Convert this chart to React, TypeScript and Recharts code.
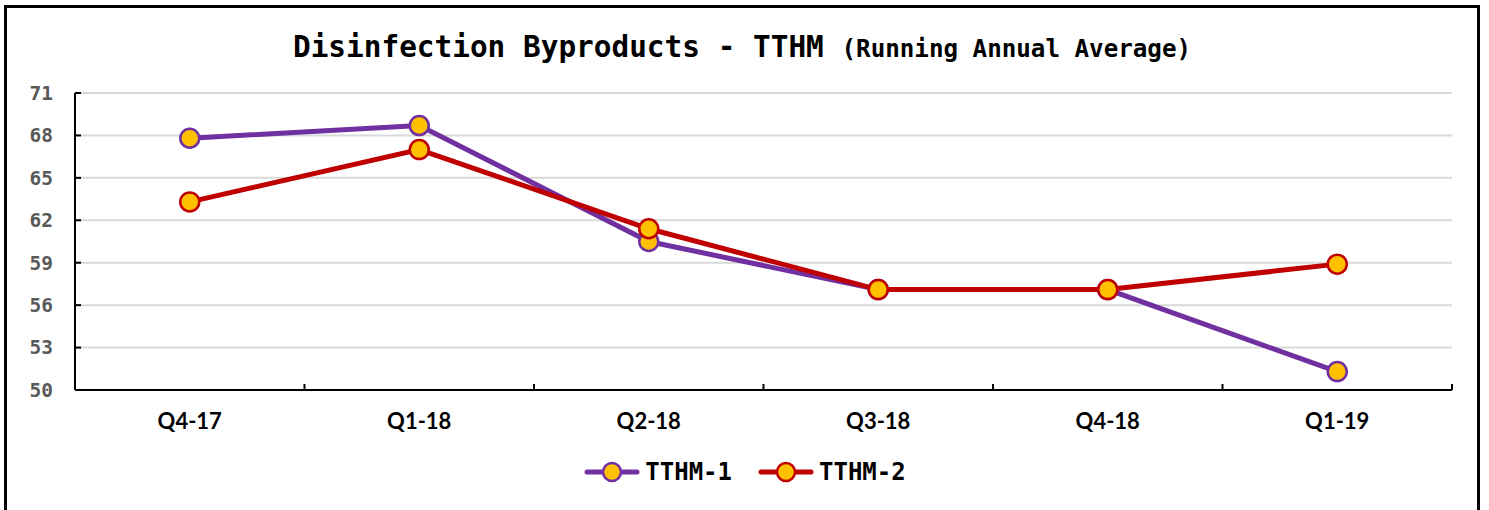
import { LineChart, Line, XAxis, YAxis, CartesianGrid, Legend } from 'recharts';

const quarters = ['Q4-17', 'Q1-18', 'Q2-18', 'Q3-18', 'Q4-18', 'Q1-19'];
const tthm1 = [67.8, 68.7, 60.5, 57.1, 57.1, 51.3];
const tthm2 = [63.3, 67.0, 61.4, 57.1, 57.1, 58.9];
const yTicks = [50, 53, 56, 59, 62, 65, 68, 71];

const data = quarters.map((q, i) => ({ quarter: q, 'TTHM-1': tthm1[i], 'TTHM-2': tthm2[i] }));

const MONO = '"DejaVu Sans Mono", monospace';
const DOT_FILL = '#FFC000';

function YTick(props: any) {
  const { x, y, payload } = props;
  return (
    <g>
      <line x1={x + 22} x2={x + 28} y1={y} y2={y} stroke="#000" strokeWidth={2} />
      <text x={x} y={y} dy="0.35em" textAnchor="end" fill="#595959"
        style={{ fontFamily: MONO, fontWeight: 700, fontSize: 19.5 }}>
        {payload.value}
      </text>
    </g>
  );
}

function XTick(props: any) {
  const { x, y, payload, index, visibleTicksCount } = props;
  const half = payload.offset ?? 0;
  const axisY = y - 31;
  return (
    <g>
      {index > 0 && (
        <line x1={x - half} x2={x - half} y1={axisY} y2={axisY - 6} stroke="#000" strokeWidth={2} />
      )}
      {index === visibleTicksCount - 1 && (
        <line x1={x + half} x2={x + half} y1={axisY} y2={axisY - 6} stroke="#000" strokeWidth={2} />
      )}
      <text x={x} y={y} dy="0.35em" textAnchor="middle" fill="#000"
        style={{ fontFamily: 'Lato, sans-serif', fontWeight: 700, fontSize: 22 }}>
        {payload.value}
      </text>
    </g>
  );
}

function LegendContent(props: any) {
  const { payload } = props;
  return (
    <div style={{ display: 'flex', justifyContent: 'center', alignItems: 'center', gap: 26, height: 30 }}>
      {(payload || []).map((p: any) => (
        <div key={p.value} style={{ display: 'flex', alignItems: 'center', gap: 5 }}>
          <svg width={56} height={26}>
            <line x1={3} x2={53} y1={13} y2={13} stroke={p.color} strokeWidth={5} strokeLinecap="round" />
            <circle cx={28} cy={13} r={9} fill={DOT_FILL} stroke={p.color} strokeWidth={2.5} />
          </svg>
          <span style={{ fontFamily: MONO, fontWeight: 700, fontSize: 24, color: '#000' }}>{p.value}</span>
        </div>
      ))}
    </div>
  );
}

export default function App() {
  return (
    <div style={{ position: 'absolute', left: 4, top: 5, width: 1470, height: 510, border: '3px solid #000', background: '#fff' }}>
      <div style={{ position: 'absolute', top: 22, left: 0, width: '100%', textAlign: 'center', whiteSpace: 'pre' }}>
        <span style={{ fontFamily: MONO, fontWeight: 700, fontSize: 29.4, color: '#000' }}>Disinfection Byproducts - TTHM </span>
        <span style={{ fontFamily: MONO, fontWeight: 700, fontSize: 24.2, color: '#000' }}>(Running Annual Average)</span>
      </div>
      <LineChart width={1470} height={505} data={data} margin={{ top: 85, right: 25, bottom: 93, left: 0 }}>
        <CartesianGrid vertical={false} stroke="#d9d9d9" strokeWidth={2} />
        <XAxis dataKey="quarter" scale="band" tickLine={false} tickSize={0} tickMargin={31}
          axisLine={{ stroke: '#000', strokeWidth: 2 }} tick={<XTick />} interval={0} />
        <YAxis domain={[50, 71]} ticks={yTicks} width={68} tickLine={false} tickSize={0} tickMargin={22}
          axisLine={{ stroke: '#000', strokeWidth: 2 }} tick={<YTick />} interval={0} />
        <Legend layout="horizontal" verticalAlign="middle" align="center"
          wrapperStyle={{ top: 449, left: 3, width: 1470 }} content={<LegendContent />} />
        <Line type="linear" dataKey="TTHM-1" name="TTHM-1" stroke="#7030A0" strokeWidth={5}
          dot={{ r: 9.5, fill: DOT_FILL, stroke: '#7030A0', strokeWidth: 2.5 }} isAnimationActive={false} />
        <Line type="linear" dataKey="TTHM-2" name="TTHM-2" stroke="#C00000" strokeWidth={5}
          dot={{ r: 9.5, fill: DOT_FILL, stroke: '#C00000', strokeWidth: 2.5 }} isAnimationActive={false} />
      </LineChart>
    </div>
  );
}
